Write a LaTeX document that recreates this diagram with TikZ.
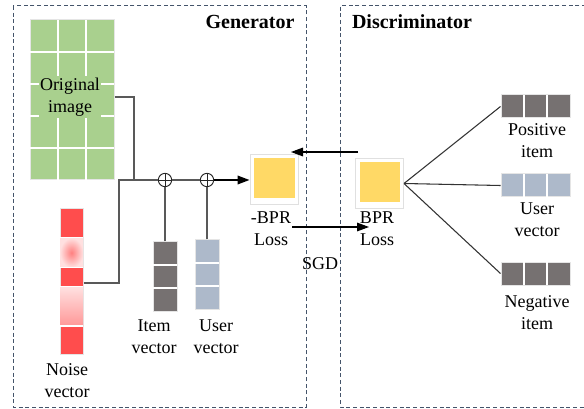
\documentclass[tikz,border=0pt]{standalone}
\usepackage{fontspec}
\setmainfont{Liberation Serif}
\usetikzlibrary{arrows.meta}

\definecolor{boxblue}{RGB}{68,84,106}
\definecolor{imggreen}{RGB}{169,208,142}
\definecolor{lossyellow}{RGB}{255,217,102}
\definecolor{vecgray}{RGB}{118,113,113}
\definecolor{vecblue}{RGB}{173,185,202}
\definecolor{noisered}{RGB}{255,77,77}
\definecolor{wiregray}{RGB}{89,89,89}

\tikzset{
	every picture/.style={line width=0.75pt},
	txt/.style={font=\fontsize{13.5}{16.5}\selectfont, align=center, inner sep=1pt},
	title/.style={font=\fontsize{15}{18}\selectfont\bfseries, inner sep=1pt},
	frame/.style={draw=boxblue, dash pattern=on 3pt off 2pt},
	cell/.style={draw=white, line width=1pt},
	wire/.style={draw=wiregray, line width=1.1pt},
	tie/.style={draw=black!80, line width=0.8pt},
	flow/.style={draw=black, line width=0.8pt, -{Triangle[length=9pt,width=6.5pt]}},
	lossbox/.style={draw=black!12, fill=white, minimum width=36pt, minimum height=37.5pt, inner sep=0pt,
		path picture={\fill[lossyellow] ([xshift=3pt,yshift=-2.5pt]path picture bounding box.north west) rectangle ([xshift=-2.5pt,yshift=5pt]path picture bounding box.south east);}},
	plus/.style={circle, draw=black!85, line width=0.7pt, minimum size=10pt, inner sep=0pt,
		path picture={\draw[black!85, line width=0.7pt] (path picture bounding box.north) -- (path picture bounding box.south) (path picture bounding box.west) -- (path picture bounding box.east);}}
}

\begin{document}
\begin{tikzpicture}[x=0.75pt,y=0.75pt,yscale=-1,xscale=1]
	\useasboundingbox (0,0) rectangle (584,409);

	%Shape: Dashed frames
	\draw [frame] (13,6) rectangle (306,407);
	\draw [frame] (586,6) -- (340,6) -- (340,407) -- (586,407);

	% Text Node
	\node [title] (gentitle) at (250,22) {Generator};
	% Text Node
	\node [title] (distitle) at (412,22) {Discriminator};

	%Shape: Original image
	\node [fill=imggreen, draw=black!10, minimum width=63pt, minimum height=120pt, inner sep=0pt] (orig) at (72,100) {};
	\foreach \i in {1,2} \draw [cell] (30+28*\i,20) -- (30+28*\i,180);
	\foreach \j in {1,...,4} \draw [cell] (30,20+32*\j) -- (114,20+32*\j);
	\node [txt, fill=imggreen] (origlbl) at (70,97) {Original\\image};

	%Shape: Noise vector
	\node [fill=noisered, draw=black!10, minimum width=17.25pt, minimum height=108.75pt, inner sep=0pt] (noise) at (71.5,281.5) {};
	\shade [inner color=red!50!white, outer color=white!88!red] (60,238) rectangle (83,267.5);
	\shade [top color=white!88!red, bottom color=red!40!white] (60,287) rectangle (83,325);
	\foreach \y in {237.5,267.5,286.5,326} \draw [cell] (60,\y) -- (83,\y);
	\node [txt] (noiselbl) at (67,381) {Noise\\vector};

	%Shape: Item / user vectors (generator)
	\node [fill=vecgray, draw=black!10, minimum width=18pt, minimum height=51.75pt, inner sep=0pt] (genitem) at (165,276.5) {};
	\foreach \k in {1,2} \draw [cell] (153,242+23*\k) -- (177,242+23*\k);
	\node [fill=vecblue, draw=black!10, minimum width=18pt, minimum height=51.75pt, inner sep=0pt] (genuser) at (207,274.5) {};
	\foreach \k in {1,2} \draw [cell] (195,240+23*\k) -- (219,240+23*\k);
	\node [txt] (genitemlbl) at (154,337) {Item\\vector};
	\node [txt] (genuserlbl) at (216,337) {User\\vector};

	%Shape: Sum nodes
	\node [plus] (sumA) at (165,180) {};
	\node [plus] (sumB) at (207,180) {};
	\coordinate (joinA) at (134,180);
	\coordinate (joinB) at (119,180);

	%Shape: Loss boxes
	\node [lossbox] (genloss) at (274,180) {};
	\node [txt] (genlosslbl) at (271,229) {-BPR\\Loss};
	\node [lossbox] (disloss) at (379.5,183.5) {};
	\node [txt] (dislosslbl) at (377,229) {BPR\\Loss};
	\node [txt] (sgdlbl) at (320,264) {SGD};

	%Shape: Discriminator vectors
	\node [fill=vecgray, draw=black!10, minimum width=51.75pt, minimum height=17.25pt, inner sep=0pt] (positem) at (535.5,106.5) {};
	\foreach \k in {1,2} \draw [cell] (501+23*\k,95) -- (501+23*\k,118);
	\node [fill=vecblue, draw=black!10, minimum width=51.75pt, minimum height=17.25pt, inner sep=0pt] (disuser) at (535.5,185.5) {};
	\foreach \k in {1,2} \draw [cell] (501+23*\k,174) -- (501+23*\k,197);
	\node [fill=vecgray, draw=black!10, minimum width=51.75pt, minimum height=17.25pt, inner sep=0pt] (negitem) at (535.5,273.5) {};
	\foreach \k in {1,2} \draw [cell] (501+23*\k,262) -- (501+23*\k,285);
	\node [txt] (positemlbl) at (537,141) {Positive\\item};
	\node [txt] (disuserlbl) at (537,220) {User\\vector};
	\node [txt] (negitemlbl) at (537,313) {Negative\\item};

	%Straight Lines
	\draw [wire] (orig.east |- origlbl) -| (joinA);
	\draw [wire] (noise.east |- 0,283) -| (joinB) -- (sumA);
	\draw [wire] (sumA) -- (sumB);
	\draw [wire] (genitem) -- (sumA);
	\draw [wire] (genuser) -- (sumB);
	\draw [wire, -{Triangle[length=9pt,width=6.5pt]}, draw=black] (sumB) -- (genloss);

	\draw [tie] (disloss.east) -- (positem.west);
	\draw [tie] (disloss.east) -- (disuser.west);
	\draw [tie] (disloss.east) -- (negitem.west);

	%Arrows between the two parts
	\coordinate (backS) at (358,152);
	\coordinate (backE) at (291,152);
	\draw [flow] (backS) -- (backE);
	\coordinate (sgdS) at (292,227);
	\coordinate (sgdE) at (369,227);
	\draw [flow] (sgdS) -- (sgdE);

\end{tikzpicture}
\end{document}
